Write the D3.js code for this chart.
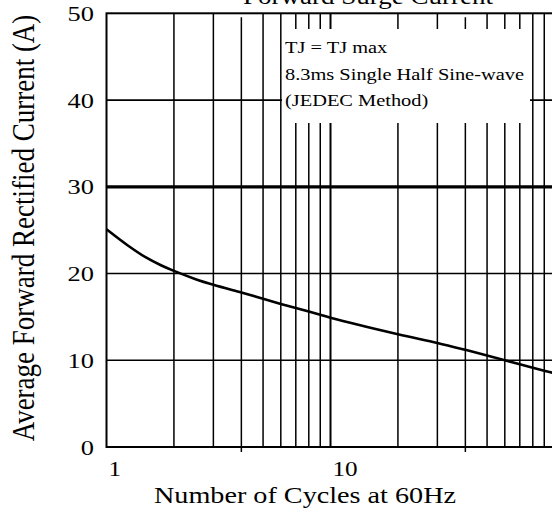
<!DOCTYPE html>
<html>
<head>
<meta charset="utf-8">
<script src="https://cdn.jsdelivr.net/npm/d3@7"></script>
<style>
  html, body { margin: 0; padding: 0; background: #fff; }
  svg { display: block; }
  text { font-family: "Liberation Serif", "Times New Roman", serif; fill: #000; }
</style>
</head>
<body>
<div id="chart"></div>
<script>
// ---- data ----
const cycles  = [1, 1.25, 1.5, 1.75, 2, 2.5, 3, 4, 5, 6, 7, 8, 9, 10, 20, 30, 40, 50, 60, 70, 80, 90, 100];
const current = [25.1, 23.2, 21.85, 20.95, 20.3, 19.35, 18.7, 17.8, 17.1, 16.5, 16.02, 15.62, 15.25, 14.9, 13.0, 12.0, 11.2, 10.55, 10.0, 9.55, 9.15, 8.8, 8.5];
const xGrid = [2, 3, 4, 5, 6, 7, 8, 9, 10, 20, 30, 40, 50, 60, 70, 80, 90];
const xMajorTicks = [4, 40];
const xTickLabels = [1, 10];
const yTicks = [0, 10, 20, 30, 40, 50];
const yGrid = [10, 20, 40];
const yHeavy = [30];
const titleText = "Forward Surge Current";
const xTitle = "Number of Cycles at 60Hz";
const yTitle = "Average Forward Rectified Current (A)";
const noteLines = ["TJ = TJ max", "8.3ms Single Half Sine-wave", "(JEDEC Method)"];

const W = 552, H = 513;
const SX = 1.2; // horizontal stretch of the lettering

const svg = d3.select("#chart").append("svg")
  .attr("width", W).attr("height", H);

const x = d3.scaleLog().domain([1, 100]).range([106.5, 554.5]);
const y = d3.scaleLinear().domain([0, 50]).range([447, 13.3]);

const g = svg.append("g");

// vertical grid lines
g.selectAll("line.vg").data(xGrid.filter(v => !xMajorTicks.includes(v))).join("line")
  .attr("x1", d => x(d)).attr("x2", d => x(d))
  .attr("y1", y(50)).attr("y2", y(0))
  .attr("stroke", "#000").attr("stroke-width", d => d === 10 ? 2 : 1.5);

g.selectAll("line.vm").data(xMajorTicks).join("line")
  .attr("x1", d => x(d)).attr("x2", d => x(d))
  .attr("y1", y(50) + 4).attr("y2", y(0) + 5)
  .attr("stroke", "#000").attr("stroke-width", 1.5);

// horizontal grid lines
g.selectAll("line.hg").data(yGrid).join("line")
  .attr("x1", x(1)).attr("x2", x(100))
  .attr("y1", d => y(d)).attr("y2", d => y(d))
  .attr("stroke", "#000").attr("stroke-width", 1.7);

g.selectAll("line.hh").data(yHeavy).join("line")
  .attr("x1", x(1)).attr("x2", x(100))
  .attr("y1", d => y(d)).attr("y2", d => y(d))
  .attr("stroke", "#000").attr("stroke-width", 3.2);

// frame
g.append("rect")
  .attr("x", x(1)).attr("y", y(50))
  .attr("width", x(100) - x(1)).attr("height", y(0) - y(50))
  .attr("fill", "none").attr("stroke", "#000").attr("stroke-width", 2);

// note box (white, covers grid)
const bx0 = x(6) + 1.2, bx1 = 530, by0 = 29, by1 = 123;
g.append("rect")
  .attr("x", bx0).attr("y", by0)
  .attr("width", bx1 - bx0).attr("height", by1 - by0)
  .attr("fill", "#fff");

noteLines.forEach((t, i) => {
  g.append("text")
    .attr("transform", `translate(285,${53 + i * 26.5}) scale(${SX},1)`)
    .attr("font-size", 17)
    .text(t);
});

// curve
const line = d3.line()
  .x((d, i) => x(cycles[i]))
  .y(d => y(d))
  .curve(d3.curveCatmullRom.alpha(0.5));
g.append("path")
  .attr("d", line(current))
  .attr("fill", "none").attr("stroke", "#000").attr("stroke-width", 2.6);

// y tick labels
g.selectAll("text.yt").data(yTicks).join("text")
  .attr("transform", d => `translate(94,${y(d)}) scale(${SX},1)`)
  .attr("text-anchor", "end")
  .attr("dominant-baseline", "central")
  .attr("font-size", 22)
  .text(d => d);

// x tick labels
g.selectAll("text.xt").data(xTickLabels).join("text")
  .attr("transform", d => `translate(${x(d) + 2},476) scale(${SX},1)`)
  .attr("text-anchor", "start")
  .attr("font-size", 21)
  .text(d => d);

// title (cut off at top, as in the reference)
svg.append("text")
  .attr("transform", `translate(368,4) scale(${SX},1)`)
  .attr("text-anchor", "middle")
  .attr("font-size", 22.5)
  .text(titleText);

// x axis title
svg.append("text")
  .attr("transform", `translate(305,503) scale(${SX},1)`)
  .attr("text-anchor", "middle")
  .attr("font-size", 23.5)
  .text(xTitle);

// y axis title
svg.append("text")
  .attr("transform", `translate(23,228) scale(${SX},1) rotate(-90)`)
  .attr("text-anchor", "middle")
  .attr("dominant-baseline", "central")
  .attr("font-size", 27)
  .text(yTitle);
</script>
</body>
</html>
